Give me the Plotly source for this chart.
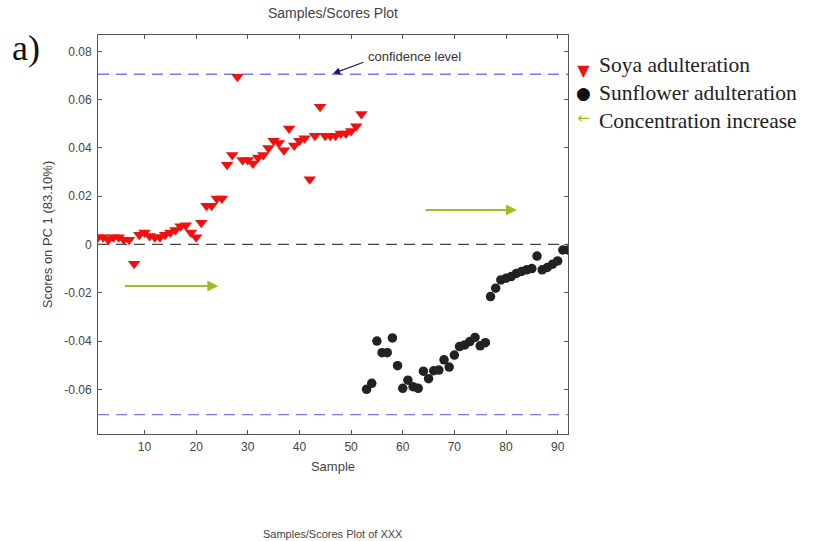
import plotly.graph_objects as go

# PCA scores on PC 1 for the two adulteration series
soya_samples = list(range(1, 53))
soya_scores = [
    0.003, 0.003, 0.002, 0.003, 0.003, 0.002, 0.002, -0.008, 0.004, 0.005,
    0.0035, 0.003, 0.003, 0.004, 0.005, 0.006, 0.0075, 0.008, 0.005, 0.003,
    0.009, 0.016, 0.016, 0.019, 0.019, 0.033, 0.037, 0.0695, 0.035, 0.035,
    0.0335, 0.036, 0.037, 0.040, 0.043, 0.042, 0.039, 0.048, 0.041, 0.043,
    0.044, 0.027, 0.045, 0.057, 0.045, 0.045, 0.045, 0.046, 0.046, 0.047,
    0.049, 0.054,
]

sunflower_samples = list(range(53, 93))
sunflower_scores = [
    -0.060, -0.0575, -0.040, -0.0448, -0.0448, -0.0387, -0.0502, -0.0596, -0.0562, -0.0589,
    -0.0596, -0.0525, -0.0556, -0.0523, -0.0520, -0.0478, -0.0508, -0.0458, -0.0423, -0.0416,
    -0.0402, -0.0385, -0.0420, -0.0407, -0.0216, -0.0181, -0.0147, -0.0140, -0.0133, -0.0120,
    -0.0112, -0.0105, -0.0100, -0.0048, -0.0105, -0.0095, -0.0082, -0.0068, -0.0023, -0.0023,
]

confidence_limit = 0.0705
x_limits = [1, 92]
y_limits = [-0.0785, 0.08675]
x_ticks = [10, 20, 30, 40, 50, 60, 70, 80, 90]
y_ticks = [-0.06, -0.04, -0.02, 0, 0.02, 0.04, 0.06, 0.08]
y_tick_labels = ["-0.06", "-0.04", "-0.02", "0", "0.02", "0.04", "0.06", "0.08"]

legend_labels = ["Soya adulteration", "Sunflower adulteration", "Concentration increase"]

# concentration-increase arrows: (start sample, end sample, score)
trend_arrows = [(5.9, 24.3, -0.0172), (64.1, 82.1, 0.0143)]
# confidence-level pointer: arrow head and tail
conf_head = (46.5, 0.0708)
conf_tail = (52.7, 0.0757)

sans = "Liberation Sans, Arial, sans-serif"
serif = "Liberation Serif, Times New Roman, serif"
grey = "#555555"
arrow_green = "#a8b820"
soya_red = "#f01010"
sun_black = "#222222"

fig = go.Figure()

# confidence limits and zero line
for lim in (confidence_limit, -confidence_limit):
    fig.add_trace(go.Scatter(x=x_limits, y=[lim, lim], mode="lines",
                             line=dict(color="#7b7bef", width=1.3, dash="11px,7px"),
                             hoverinfo="skip", showlegend=False))
fig.add_trace(go.Scatter(x=x_limits, y=[0, 0], mode="lines",
                         line=dict(color="#444444", width=1.3, dash="11px,7px"),
                         hoverinfo="skip", showlegend=False))

fig.add_trace(go.Scatter(x=soya_samples, y=soya_scores, mode="markers",
                         marker=dict(symbol="triangle-down", size=11, color=soya_red),
                         name=legend_labels[0], showlegend=False))
fig.add_trace(go.Scatter(x=sunflower_samples, y=sunflower_scores, mode="markers",
                         marker=dict(symbol="circle", size=9.5, color=sun_black),
                         name=legend_labels[1], showlegend=False))

annotations = []
for x0, x1, yv in trend_arrows:
    annotations.append(dict(x=x1, y=yv, ax=x0, ay=yv, xref="x", yref="y",
                            axref="x", ayref="y", text="", showarrow=True,
                            arrowhead=2, arrowsize=1.1, arrowwidth=2,
                            arrowcolor=arrow_green))
annotations.append(dict(x=conf_head[0], y=conf_head[1], ax=conf_tail[0], ay=conf_tail[1],
                        xref="x", yref="y", axref="x", ayref="y", text="",
                        showarrow=True, arrowhead=2, arrowsize=1.3, arrowwidth=1.1,
                        arrowcolor="#1c1c55"))
annotations.append(dict(x=conf_tail[0] + 0.2, y=0.0778, xref="x", yref="y",
                        text="confidence level", showarrow=False, xanchor="left",
                        yanchor="middle", font=dict(family=sans, size=13, color="#333333")))

# titles and panel letter
annotations.append(dict(x=0.5, y=1.055, xref="paper", yref="paper",
                        text="Samples/Scores Plot", showarrow=False,
                        xanchor="center", yanchor="middle",
                        font=dict(family=sans, size=14, color="#444444")))
annotations.append(dict(x=0.5, y=-0.25, xref="paper", yref="paper",
                        text="Samples/Scores Plot of XXX", showarrow=False,
                        xanchor="center", yanchor="middle",
                        font=dict(family=sans, size=11, color="#444444")))
annotations.append(dict(x=-0.153, y=0.968, xref="paper", yref="paper",
                        text="a)", showarrow=False, xanchor="center", yanchor="middle",
                        font=dict(family=serif, size=36, color="#111111")))

# legend block: symbols column and labels column
symbol_spans = [
    f"<span style='color:{soya_red};font-size:16px'>\u25BC</span>",
    f"<span style='color:#111111;font-size:17px'>\u25CF</span>",
    f"<span style='color:{arrow_green};font-size:15px'>\u2190</span>",
]
annotations.append(dict(x=1.032, y=0.853, xref="paper", yref="paper",
                        text="<br>".join(symbol_spans), showarrow=False,
                        xanchor="center", yanchor="middle", align="center",
                        font=dict(family="DejaVu Sans", size=18, color="#111111")))
annotations.append(dict(x=1.062, y=0.855, xref="paper", yref="paper",
                        text="<br>".join(legend_labels), showarrow=False,
                        xanchor="left", yanchor="middle", align="left",
                        font=dict(family=serif, size=21.5, color="#222222")))

axis_common = dict(showgrid=False, zeroline=False, showline=True, linecolor=grey,
                   linewidth=1, mirror="ticks", ticks="inside", ticklen=4,
                   tickcolor=grey, tickfont=dict(family=sans, size=12, color="#444444"))

fig.update_layout(
    width=814, height=541,
    margin=dict(l=98, r=246, t=35, b=107),
    paper_bgcolor="white", plot_bgcolor="white",
    showlegend=False,
    xaxis=dict(range=x_limits, tickvals=x_ticks, ticklabelstandoff=2,
               title=dict(text="Sample", standoff=8,
                          font=dict(family=sans, size=13, color="#444444")), **axis_common),
    yaxis=dict(range=y_limits, tickvals=y_ticks, ticktext=y_tick_labels,
               ticklabelstandoff=3,
               title=dict(text="Scores on PC 1 (83.10%)", standoff=8,
                          font=dict(family=sans, size=13, color="#444444")), **axis_common),
    annotations=annotations,
)

fig.write_html("out.html")
